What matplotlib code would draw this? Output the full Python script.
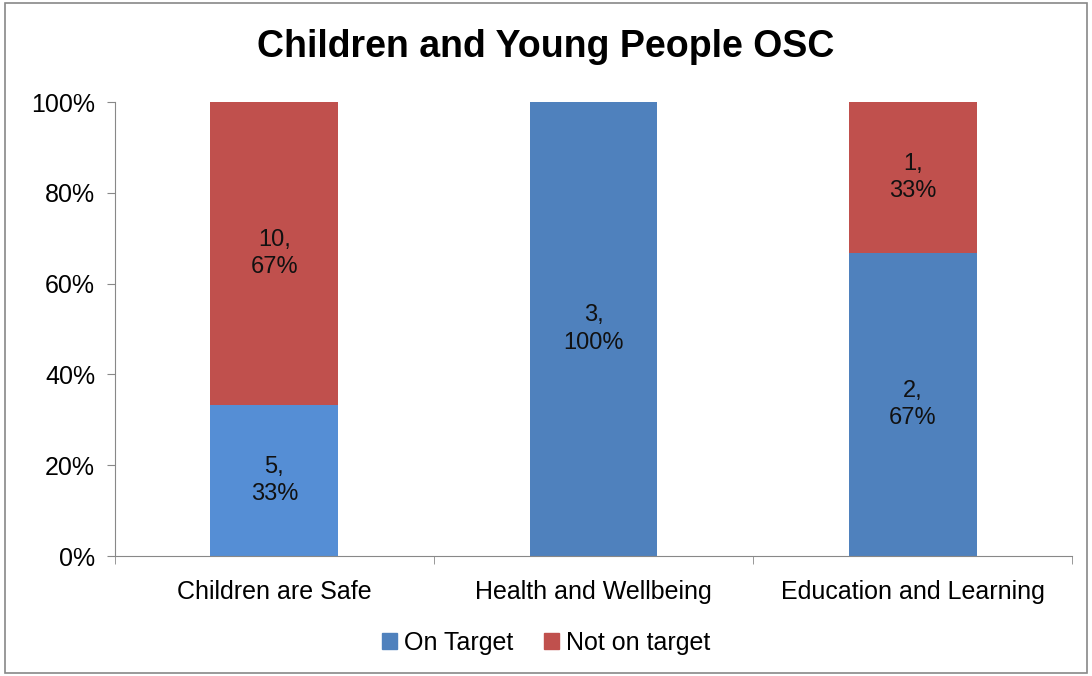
import numpy as np
import matplotlib.pyplot as plt
from matplotlib.patches import Rectangle, Patch

plt.rcParams['font.family'] = ['Liberation Sans', 'DejaVu Sans']

categories = ["Children are Safe", "Health and Wellbeing", "Education and Learning"]
on_target = [5, 3, 2]
not_on_target = [10, 0, 1]
on_colors = ["#558ED5", "#4F81BD", "#4F81BD"]
red = "#C0504D"

on = np.array(on_target, dtype=float)
off = np.array(not_on_target, dtype=float)
total = on + off
on_pct = on / total * 100
off_pct = off / total * 100

fig = plt.figure(figsize=(10.92, 6.76), dpi=100)
fig.patches.append(Rectangle((0.005, 0.005), 0.99, 0.99, transform=fig.transFigure,
                             fill=False, edgecolor="#888888", linewidth=1.2))
ax = fig.add_axes([0.105, 0.1775, 0.877, 0.6715])

x = np.arange(len(categories))
ax.bar(x, on_pct, width=0.4, color=on_colors)
ax.bar(x, off_pct, width=0.4, bottom=on_pct, color=red)

fs = 18
for i in range(len(categories)):
    if on[i] > 0:
        ax.text(x[i], on_pct[i] / 2, f"{on_target[i]},\n{on_pct[i]:.0f}%",
                ha="center", va="center", fontsize=fs - 1, color="#111111", linespacing=1.3)
    if off[i] > 0:
        ax.text(x[i], on_pct[i] + off_pct[i] / 2, f"{not_on_target[i]},\n{off_pct[i]:.0f}%",
                ha="center", va="center", fontsize=fs - 1, color="#111111", linespacing=1.3)

ax.set_xlim(-0.5, len(categories) - 0.5)
ax.set_ylim(0, 100)
ax.set_yticks(range(0, 101, 20))
ax.set_yticklabels([f"{v}%" for v in range(0, 101, 20)], fontsize=fs)
ax.set_xticks(x)
ax.set_xticklabels(categories, fontsize=fs)
ax.tick_params(axis="x", length=0, pad=17)
ax.tick_params(axis="y", length=6, color="#888888", pad=8)
ax.set_xticks(np.arange(-0.5, len(categories), 1.0), minor=True)
ax.tick_params(axis="x", which="minor", length=6, color="#888888")

for s in ["top", "right"]:
    ax.spines[s].set_visible(False)
for s in ["left", "bottom"]:
    ax.spines[s].set_color("#888888")

fig.text(0.5, 0.93, "Children and Young People OSC", ha="center", va="center",
         fontsize=27, fontweight="bold")

handles = [Patch(color="#4F81BD", label="On Target"), Patch(color=red, label="Not on target")]
fig.legend(handles=handles, loc="center", bbox_to_anchor=(0.5, 0.049), ncol=2,
           frameon=False, fontsize=fs, handlelength=0.6, handleheight=0.6,
           handletextpad=0.3, columnspacing=1.2)

fig.savefig("out.png", dpi=100)
